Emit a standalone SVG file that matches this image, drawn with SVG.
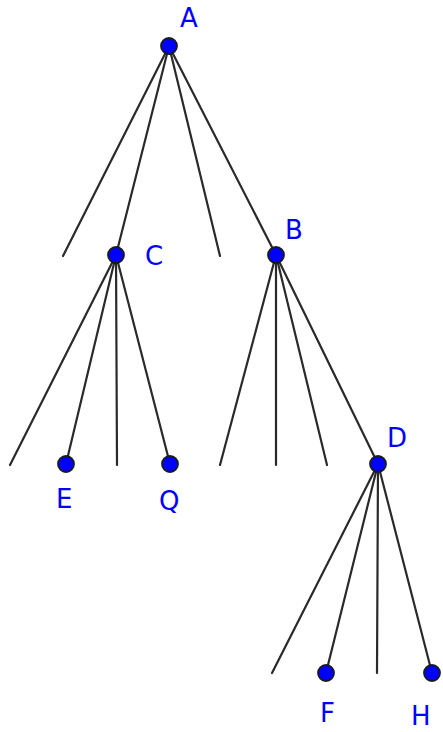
<svg xmlns="http://www.w3.org/2000/svg" width="443" height="732" viewBox="0 0 443 732">
  <style>
    .edge { stroke: #2a2a2a; stroke-width: 2.2; stroke-linecap: round; fill: none; }
    .pt { fill: #0000ff; stroke: #1a1a1a; stroke-width: 1.8; }
    .lbl { font-family: "DejaVu Sans", "Liberation Sans", sans-serif; font-size: 26px; fill: #0000ff; }
  </style>
  <rect width="443" height="732" fill="#ffffff"/>
  <g id="connectors">
    <!-- branches from A -->
    <line class="edge" x1="169" y1="46" x2="63" y2="256"/>
    <line class="edge" x1="169" y1="46" x2="116" y2="255"/>
    <line class="edge" x1="169" y1="46" x2="220" y2="256"/>
    <line class="edge" x1="169" y1="46" x2="276" y2="255"/>
    <!-- branches from C -->
    <line class="edge" x1="116" y1="255" x2="10" y2="465"/>
    <line class="edge" x1="116" y1="255" x2="66" y2="464"/>
    <line class="edge" x1="116" y1="255" x2="117" y2="465"/>
    <line class="edge" x1="116" y1="255" x2="170" y2="464"/>
    <!-- branches from B -->
    <line class="edge" x1="276" y1="255" x2="220" y2="465"/>
    <line class="edge" x1="276" y1="255" x2="276" y2="465"/>
    <line class="edge" x1="276" y1="255" x2="327" y2="465"/>
    <line class="edge" x1="276" y1="255" x2="378" y2="464"/>
    <!-- branches from D -->
    <line class="edge" x1="378" y1="464" x2="272" y2="673"/>
    <line class="edge" x1="378" y1="464" x2="326" y2="673"/>
    <line class="edge" x1="378" y1="464" x2="377" y2="673"/>
    <line class="edge" x1="378" y1="464" x2="432" y2="673"/>
  </g>
  <g id="A"><circle class="pt" cx="169" cy="46" r="8"/><text class="lbl" x="180" y="27">A</text></g>
  <g id="C"><circle class="pt" cx="116" cy="255" r="8"/><text class="lbl" x="145" y="265">C</text></g>
  <g id="B"><circle class="pt" cx="276" cy="255" r="8"/><text class="lbl" x="285" y="239">B</text></g>
  <g id="D"><circle class="pt" cx="378" cy="464" r="8"/><text class="lbl" x="387" y="447">D</text></g>
  <g id="E"><circle class="pt" cx="66" cy="464" r="8"/><text class="lbl" x="56" y="508">E</text></g>
  <g id="Q"><circle class="pt" cx="170" cy="464" r="8"/><text class="lbl" x="159" y="510">Q</text></g>
  <g id="F"><circle class="pt" cx="326" cy="673" r="8"/><text class="lbl" x="320" y="722">F</text></g>
  <g id="H"><circle class="pt" cx="432" cy="673" r="8"/><text class="lbl" x="411" y="725">H</text></g>
</svg>
